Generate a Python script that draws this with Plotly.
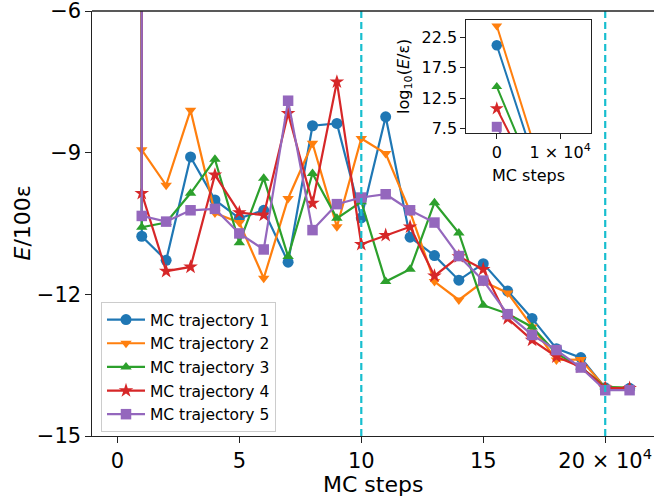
import plotly.graph_objects as go

# ---------------- data ----------------
steps = list(range(0, 22))  # in units of 1e4 MC steps
# log10(E/eps) of the initial (step 0) configuration
log_e0 = [21.2, 24.4, 14.4, 10.8, 7.8]
# E/100eps for steps 1..21
traj1 = [-10.77, -11.28, -9.09, -10.00, -10.39, -10.22, -11.32, -8.43, -8.38, -10.38,
         -8.24, -10.79, -11.18, -11.70, -11.35, -11.93, -12.51, -13.15, -13.34, -13.98, -13.99]
traj2 = [-8.94, -9.69, -8.10, -10.28, -10.48, -11.66, -9.97, -8.80, -10.57, -8.70,
         -9.02, -10.25, -11.73, -12.12, -11.73, -11.97, -12.69, -13.39, -13.38, -13.97, -13.98]
traj3 = [-10.58, -10.48, -9.86, -9.14, -10.91, -9.54, -11.20, -9.44, -10.39, -10.04,
         -11.73, -11.47, -10.06, -10.70, -12.23, -12.41, -12.69, -13.25, -13.54, -13.96, -13.98]
traj4 = [-9.86, -11.51, -11.42, -9.47, -10.27, -10.32, -8.17, -10.07, -7.50, -10.94,
         -10.75, -10.57, -11.61, -11.20, -11.47, -12.51, -12.97, -13.32, -13.54, -13.98, -13.99]
traj5 = [-10.34, -10.46, -10.22, -10.19, -10.71, -11.05, -7.90, -10.64, -10.09, -9.95,
         -9.88, -10.22, -10.48, -11.19, -11.71, -12.42, -12.86, -13.18, -13.55, -14.03, -14.03]
series = [traj1, traj2, traj3, traj4, traj5]
names = ["MC trajectory 1", "MC trajectory 2", "MC trajectory 3", "MC trajectory 4", "MC trajectory 5"]
vlines = [10, 20]
x_tickvals = [0, 5, 10, 15, 20]
x_ticktext = ["0", "5", "10", "15", "20 × 10<sup>4</sup>"]
y_tickvals = [-6, -9, -12, -15]
y_ticktext = ["−6", "−9", "−12", "−15"]
inset_xticks = [0, 1e4]
inset_xtext = ["0", "1 × 10<sup>4</sup>"]
inset_yticks = [7.5, 12.5, 17.5, 22.5]

colors = ["#1f77b4", "#ff7f0e", "#2ca02c", "#d62728", "#9467bd"]
symbols = ["circle", "triangle-down", "triangle-up", "star", "square"]
msizes = [11, 10, 10, 11, 10.5]

FONT = "DejaVu Sans"
W, H = 654, 502
L, R, T, B = 92, 0, 11, 66

fig = go.Figure()

for i, s in enumerate(series):
    main_y = [10 ** log_e0[i] / 100.0] + s
    fig.add_trace(go.Scatter(
        x=steps, y=main_y, mode="lines+markers", name=names[i],
        legendgroup=f"g{i}",
        line=dict(color=colors[i], width=2.2),
        marker=dict(symbol=symbols[i], size=msizes[i], color=colors[i]),
        xaxis="x", yaxis="y", cliponaxis=True,
    ))

for i, s in enumerate(series):
    inset_x = [v * 1e4 for v in steps]
    inset_y = [log_e0[i]] + s
    fig.add_trace(go.Scatter(
        x=inset_x, y=inset_y, mode="lines+markers", showlegend=False,
        line=dict(color=colors[i], width=2.0),
        marker=dict(symbol=symbols[i], size=msizes[i] - 0.5, color=colors[i]),
        xaxis="x2", yaxis="y2", cliponaxis=True,
    ))

for v in vlines:
    fig.add_shape(type="line", x0=v, x1=v, y0=0, y1=1, xref="x", yref="paper",
                  line=dict(color="#17becf", width=2.2, dash="7px,4px"), layer="above")

# top spine of main axes (right spine lies outside the picture)
fig.add_shape(type="line", x0=0, x1=1, y0=1, y1=1, xref="paper", yref="paper",
              line=dict(color="#222", width=1.3), layer="above")

# inset domain in pixels -> paper
pw, ph = W - L - R, H - T - B
ix0, ix1, iy0, iy1 = 466, 591, 20, 133
inset_xdom = [(ix0 - L) / pw, (ix1 - L) / pw]
inset_ydom = [(H - B - iy1) / ph, (H - B - iy0) / ph]

axis_common = dict(showgrid=False, zeroline=False, ticks="outside", showline=True,
                   linecolor="#222", linewidth=1.3, tickcolor="#222", tickwidth=1.3,
                   ticklabeloverflow="allow")

fig.update_layout(
    width=W, height=H,
    margin=dict(l=L, r=R, t=T, b=B),
    paper_bgcolor="white", plot_bgcolor="white",
    font=dict(family=FONT, color="black"),
    xaxis=dict(domain=[0, 1], range=[-1.04, 22.0], tickvals=x_tickvals, ticktext=x_ticktext,
               ticklen=5.5, tickfont=dict(size=21, family=FONT), **axis_common),
    yaxis=dict(domain=[0, 1], range=[-15, -6], tickvals=y_tickvals, ticktext=y_ticktext,
               ticklen=5.5, tickfont=dict(size=21, family=FONT), **axis_common),
    xaxis2=dict(domain=inset_xdom, range=[-0.485e4, 1.485e4], anchor="y2",
                tickvals=inset_xticks, ticktext=inset_xtext, ticklen=4.5, mirror=True,
                tickfont=dict(size=16, family=FONT), **axis_common),
    yaxis2=dict(domain=inset_ydom, range=[6.78, 25.35], anchor="x2",
                tickvals=inset_yticks, ticktext=["7.5", "12.5", "17.5", "22.5"], ticklen=4.5,
                mirror=True, tickfont=dict(size=16, family=FONT), **axis_common),
    legend=dict(x=(101 - L) / pw, y=(H - B - 302) / ph, xanchor="left", yanchor="top",
                bgcolor="rgba(255,255,255,0.85)", bordercolor="#cccccc", borderwidth=1,
                font=dict(size=15.5, family=FONT), tracegroupgap=0.5,
                traceorder="grouped", itemwidth=38),
    showlegend=True,
)

# axis labels as annotations
fig.add_annotation(text="MC steps", xref="paper", yref="paper",
                   x=0.5, y=(H - B - 484) / ph, xanchor="center", yanchor="middle",
                   showarrow=False, font=dict(size=22, family=FONT))
fig.add_annotation(text="<i>E</i>/100ε", xref="paper", yref="paper",
                   x=(22 - L) / pw, y=0.5, xanchor="center", yanchor="middle", textangle=-90,
                   showarrow=False, font=dict(size=22, family=FONT))
fig.add_annotation(text="MC steps", xref="paper", yref="paper",
                   x=((ix0 + ix1) / 2 - L) / pw, y=(H - B - 175) / ph,
                   xanchor="center", yanchor="middle",
                   showarrow=False, font=dict(size=16, family=FONT))
fig.add_annotation(text="log<sub>10</sub>(<i>E</i>/ε)", xref="paper", yref="paper",
                   x=(405 - L) / pw, y=(H - B - 77) / ph, xanchor="center", yanchor="middle",
                   textangle=-90, showarrow=False, font=dict(size=16, family=FONT))

fig.write_html("out.html", config={"displayModeBar": False},
               post_script="document.body.style.margin='0';")
